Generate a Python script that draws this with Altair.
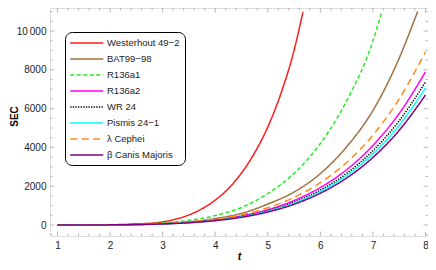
import altair as alt
import pandas as pd
import numpy as np

names = ["Westerhout 49\u22122", "BAT99\u221298", "R136a1", "R136a2", "WR 24",
         "Pismis 24\u22121", "\u03bb Cephei", "\u03b2 Canis Majoris"]
colors = ["#ff1a1a", "#a0703f", "#22ee22", "#ff00ff", "#000000", "#00ffff", "#ff8a1a", "#800080"]
dashes = [[1, 0], [1, 0], [4, 2.5], [1, 0], [1.3, 1.3], [1, 0], [7, 4.5], [1, 0]]

T = [1, 1.5, 2, 2.5, 3, 3.5, 4, 4.5, 5, 5.5, 6, 6.5, 7, 7.5, 8]
t_red = [1, 1.5, 2, 2.5, 3, 3.25, 3.5, 3.75, 4, 4.25, 4.5, 4.75, 5, 5.25, 5.5, 5.67]
t_green = [1, 1.5, 2, 2.5, 3, 3.5, 4, 4.5, 5, 5.5, 6, 6.5, 7, 7.16]
t_brown = [1, 1.5, 2, 2.5, 3, 3.5, 4, 4.5, 5, 5.5, 6, 6.5, 7, 7.5, 7.85]

westerhout = [0, 2, 12, 50, 160, 300, 520, 840, 1280, 1880, 2680, 3720, 5050, 6780, 9000, 11000]
bat = [0, 2, 9, 28, 72, 160, 330, 600, 1080, 1700, 2650, 4030, 5900, 8600, 11000]
r136a1 = [0, 3, 12, 40, 105, 240, 485, 905, 1620, 2660, 4200, 6400, 9480, 10900]
r136a2 = [0, 2.1, 9, 26, 65, 137, 264, 470, 788, 1260, 1930, 2850, 4100, 5750, 7890]
wr24 = [0, 2, 8, 25, 60, 128, 246, 439, 736, 1177, 1800, 2660, 3830, 5370, 7370]
pismis = [0, 1.9, 8, 23, 58, 123, 236, 420, 705, 1127, 1727, 2550, 3670, 5145, 7060]
cephei = [0, 2.4, 10, 30, 73, 155, 298, 532, 891, 1424, 2180, 3220, 4630, 6500, 8920]
canis = [0, 1.8, 7.6, 22, 55, 116, 224, 399, 669, 1070, 1639, 2420, 3480, 4880, 6700]

series = [(t_red, westerhout), (t_brown, bat), (t_green, r136a1), (T, r136a2), (T, wr24),
          (T, pismis), (T, cephei), (T, canis)]

rows = []
for i, (ts, vs) in enumerate(series):
    for t, v in zip(ts, vs):
        rows.append({"t": t, "v": v, "star": names[i], "ord": i})
df = pd.DataFrame(rows)

x_major = [1, 2, 3, 4, 5, 6, 7, 8]
x_minor = [round(x, 2) for x in np.arange(1, 8.01, 0.2) if abs(x - round(x)) > 1e-6]
y_major = [0, 2000, 4000, 6000, 8000, 10000]
y_minor = [v for v in range(-500, 11001, 500) if v % 2000 != 0]

W, H = 378, 228
XD = [0.857, 8.048]
YD = [-567, 11186]
FRAME = "#a6a6a6"
FONT = "Liberation Sans"

xs = alt.Scale(domain=XD, nice=False, zero=False)
ys = alt.Scale(domain=YD, nice=False, zero=False)

x_axis = alt.Axis(values=x_major, ticks=False, domain=False, grid=False,
                  labelPadding=4, labelFontSize=10, labelFont=FONT, labelColor="#222",
                  titleFont=FONT, titleFontSize=10.5, titleFontStyle="italic",
                  titleFontWeight="bold", titlePadding=1)
y_axis = alt.Axis(values=y_major, ticks=False, domain=False, grid=False,
                  labelPadding=4, labelFontSize=10, labelFont=FONT, labelColor="#222",
                  labelExpr="datum.value >= 10000 ? '10\u2009000' : toString(datum.value)",
                  titleFont=FONT, titleFontSize=10, titleFontWeight="bold",
                  titleX=-31, titleY=108, titleAngle=270, titleAlign="center",
                  titleBaseline="bottom")

lines = alt.Chart(df).mark_line(strokeWidth=1.5, interpolate="monotone", clip=True).encode(
    x=alt.X("t:Q", scale=xs, title="t", axis=x_axis),
    y=alt.Y("v:Q", scale=ys, title="SEC", axis=y_axis),
    color=alt.Color("star:N", scale=alt.Scale(domain=names, range=colors),
                    legend=alt.Legend(orient="none", legendX=15, legendY=24, title=None,
                                      strokeColor="black", cornerRadius=7, fillColor="white",
                                      padding=5, symbolType="M-1.15,0H5.45", symbolSize=100,
                                      symbolStrokeWidth=1.5, symbolOffset=0, labelOffset=25,
                                      labelFont=FONT, labelFontSize=9.5, labelColor="#222",
                                      rowPadding=5.0)),
    strokeDash=alt.StrokeDash("star:N", scale=alt.Scale(domain=names, range=dashes), legend=None),
    order=alt.Order("ord:Q"),
    detail="star:N",
)

def xticks(vals, length):
    d = pd.DataFrame({"t": vals})
    base = alt.Chart(d).mark_rule(color=FRAME, strokeWidth=0.8)
    top = base.encode(x=alt.X("t:Q", scale=xs, title="t", axis=x_axis), y=alt.value(0), y2=alt.value(length))
    bot = base.encode(x=alt.X("t:Q", scale=xs, title="t", axis=x_axis), y=alt.value(H), y2=alt.value(H - length))
    return [top, bot]

def yticks(vals, length):
    d = pd.DataFrame({"v": vals})
    base = alt.Chart(d).mark_rule(color=FRAME, strokeWidth=0.8)
    left = base.encode(y=alt.Y("v:Q", scale=ys, title="SEC", axis=y_axis), x=alt.value(0), x2=alt.value(length))
    right = base.encode(y=alt.Y("v:Q", scale=ys, title="SEC", axis=y_axis), x=alt.value(W), x2=alt.value(W - length))
    return [left, right]

layers = [lines] + xticks(x_major, 4.5) + xticks(x_minor, 2.5) + yticks(y_major, 4.5) + yticks(y_minor, 2.5)

chart = alt.layer(*layers).properties(
    width=W, height=H,
    autosize=alt.AutoSizeParams(type="none"),
    padding={"left": 42, "top": 0, "right": 0, "bottom": 26},
).configure_view(stroke=FRAME, strokeWidth=1).configure(background="white")

chart.save("out.html", embed_options={"renderer": "svg", "actions": False})
